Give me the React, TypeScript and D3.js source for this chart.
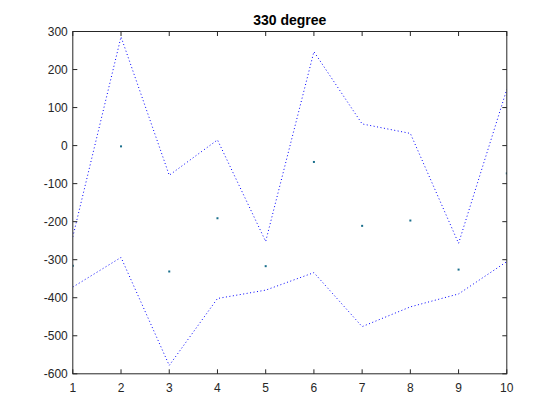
import React from "react";
import * as d3 from "d3";

const xs = [1, 2, 3, 4, 5, 6, 7, 8, 9, 10];
const upper = [-240, 286, -78, 15, -252, 247, 57, 32, -257, 148];
const lower = [-372, -294, -578, -402, -380, -334, -476, -424, -390, -305];
const points = [-316, -2, -331, -191, -317, -43, -211, -197, -326, -73];
const xTicks = [1, 2, 3, 4, 5, 6, 7, 8, 9, 10];
const yTicks = [-600, -500, -400, -300, -200, -100, 0, 100, 200, 300];
const title = "330 degree";

const W = 560, H = 420;
const L = 72.8, R = 506.8, T = 31.5, B = 373.8;

export default function App() {
  const x = d3.scaleLinear().domain([1, 10]).range([L, R]);
  const y = d3.scaleLinear().domain([-600, 300]).range([B, T]);
  const line = d3.line<number>().x((_, i) => x(xs[i])).y((d) => y(d));
  const font = "'Liberation Sans', Arial, sans-serif";
  return (
    <svg width={W} height={H} style={{ position: "absolute", left: 0, top: 0, background: "#fff" }}>
      <rect x={0} y={0} width={W} height={H} fill="#fff" />
      <defs>
        <clipPath id="clip">
          <rect x={L} y={T} width={R - L} height={B - T} />
        </clipPath>
      </defs>
      <g clipPath="url(#clip)">
        <path d={line(upper) || ""} fill="none" stroke="#0000ff" strokeWidth={1} strokeDasharray="1 2.5" />
        <path d={line(lower) || ""} fill="none" stroke="#0000ff" strokeWidth={1} strokeDasharray="1 2.5" />
        {points.map((v, i) => (
          <rect key={i} x={x(xs[i]) - 1} y={y(v) - 1} width={2} height={2} fill="#1a6f8c" />
        ))}
      </g>
      <rect x={L} y={T} width={R - L} height={B - T} fill="none" stroke="#262626" strokeWidth={1} />
      {xTicks.map((t) => (
        <g key={"x" + t}>
          <line x1={x(t)} x2={x(t)} y1={B} y2={B - 4.5} stroke="#262626" />
          <line x1={x(t)} x2={x(t)} y1={T} y2={T + 4.5} stroke="#262626" />
          <text x={x(t)} y={B + 18} textAnchor="middle" fontFamily={font} fontSize={12} fill="#262626">{t}</text>
        </g>
      ))}
      {yTicks.map((t) => (
        <g key={"y" + t}>
          <line x1={L} x2={L + 4.5} y1={y(t)} y2={y(t)} stroke="#262626" />
          <line x1={R} x2={R - 4.5} y1={y(t)} y2={y(t)} stroke="#262626" />
          <text x={L - 5} y={y(t) + 4.5} textAnchor="end" fontFamily={font} fontSize={12} fill="#262626">{t}</text>
        </g>
      ))}
      <text x={(L + R) / 2} y={T - 7} textAnchor="middle" fontFamily={font} fontSize={14} fontWeight="bold" fill="#000">{title}</text>
    </svg>
  );
}
